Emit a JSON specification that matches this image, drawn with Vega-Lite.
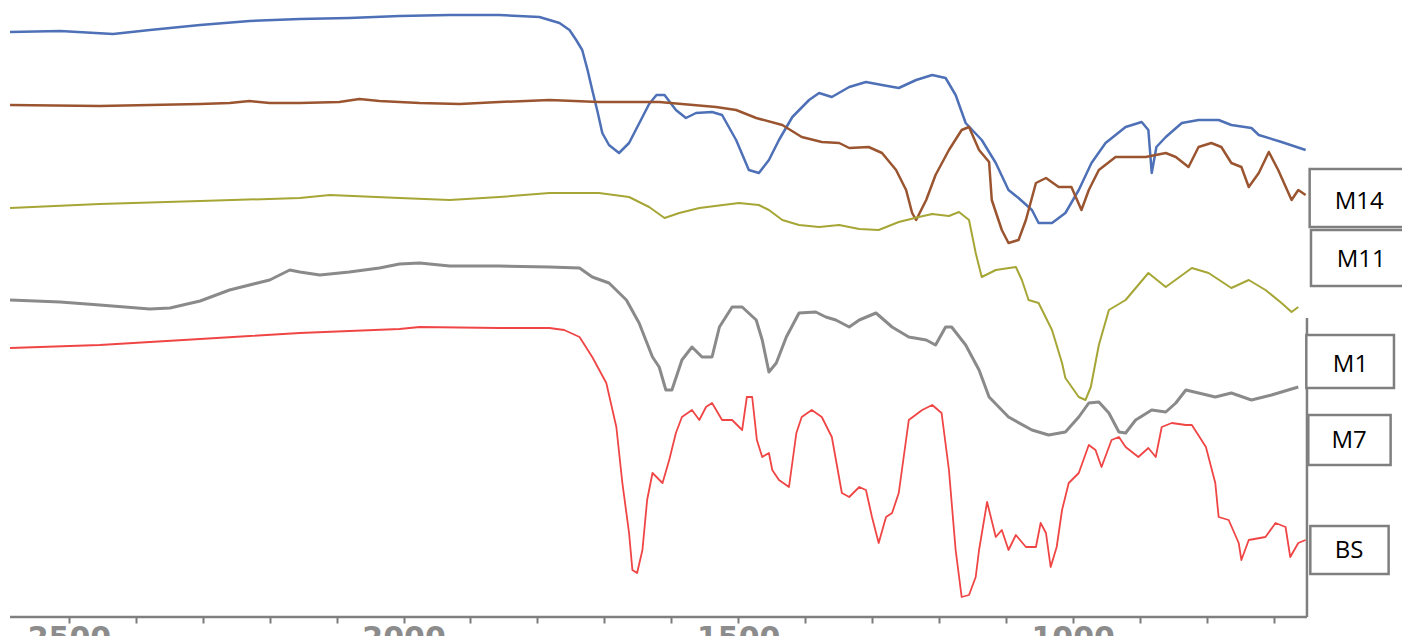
{
  "$schema": "https://vega.github.io/schema/vega-lite/v6.json",
  "width": 1402,
  "height": 617,
  "autosize": "none",
  "padding": {"left": 0, "top": 0, "right": 0, "bottom": 19},
  "background": "white",
  "config": {"view": {"stroke": null}},
  "datasets": {
    "spectra": [
      {"s":"M14","wn":2588,"t":585},{"s":"M14","wn":2513,"t":586},{"s":"M14","wn":2434,"t":583},{"s":"M14","wn":2379,"t":587},{"s":"M14","wn":2304,"t":592},{"s":"M14","wn":2230,"t":596},{"s":"M14","wn":2155,"t":598},{"s":"M14","wn":2081,"t":599},{"s":"M14","wn":2006,"t":601},{"s":"M14","wn":1931,"t":602},{"s":"M14","wn":1857,"t":602},{"s":"M14","wn":1797,"t":600},{"s":"M14","wn":1782,"t":597},{"s":"M14","wn":1767,"t":594},{"s":"M14","wn":1752,"t":587},{"s":"M14","wn":1742,"t":577},{"s":"M14","wn":1733,"t":567},{"s":"M14","wn":1725,"t":547},{"s":"M14","wn":1718,"t":527},{"s":"M14","wn":1710,"t":505},{"s":"M14","wn":1703,"t":484},{"s":"M14","wn":1693,"t":472},{"s":"M14","wn":1678,"t":464},{"s":"M14","wn":1663,"t":474},{"s":"M14","wn":1643,"t":500},{"s":"M14","wn":1633,"t":513},{"s":"M14","wn":1622,"t":522},{"s":"M14","wn":1610,"t":522},{"s":"M14","wn":1593,"t":507},{"s":"M14","wn":1578,"t":499},{"s":"M14","wn":1563,"t":504},{"s":"M14","wn":1539,"t":505},{"s":"M14","wn":1524,"t":502},{"s":"M14","wn":1503,"t":477},{"s":"M14","wn":1484,"t":447},{"s":"M14","wn":1469,"t":444},{"s":"M14","wn":1454,"t":457},{"s":"M14","wn":1439,"t":477},{"s":"M14","wn":1419,"t":500},{"s":"M14","wn":1394,"t":517},{"s":"M14","wn":1379,"t":524},{"s":"M14","wn":1360,"t":520},{"s":"M14","wn":1334,"t":530},{"s":"M14","wn":1309,"t":535},{"s":"M14","wn":1285,"t":532},{"s":"M14","wn":1260,"t":529},{"s":"M14","wn":1234,"t":537},{"s":"M14","wn":1210,"t":542},{"s":"M14","wn":1190,"t":539},{"s":"M14","wn":1175,"t":522},{"s":"M14","wn":1160,"t":494},{"s":"M14","wn":1136,"t":477},{"s":"M14","wn":1115,"t":454},{"s":"M14","wn":1096,"t":427},{"s":"M14","wn":1081,"t":419},{"s":"M14","wn":1061,"t":407},{"s":"M14","wn":1051,"t":394},{"s":"M14","wn":1031,"t":394},{"s":"M14","wn":1011,"t":404},{"s":"M14","wn":991,"t":427},{"s":"M14","wn":972,"t":454},{"s":"M14","wn":951,"t":474},{"s":"M14","wn":921,"t":490},{"s":"M14","wn":897,"t":495},{"s":"M14","wn":887,"t":487},{"s":"M14","wn":882,"t":444},{"s":"M14","wn":875,"t":470},{"s":"M14","wn":861,"t":480},{"s":"M14","wn":837,"t":494},{"s":"M14","wn":812,"t":497},{"s":"M14","wn":782,"t":497},{"s":"M14","wn":763,"t":492},{"s":"M14","wn":733,"t":489},{"s":"M14","wn":722,"t":482},{"s":"M14","wn":688,"t":475},{"s":"M14","wn":652,"t":467},

      {"s":"M11","wn":2588,"t":512},{"s":"M11","wn":2454,"t":511},{"s":"M11","wn":2379,"t":512},{"s":"M11","wn":2304,"t":513},{"s":"M11","wn":2260,"t":514},{"s":"M11","wn":2230,"t":516},{"s":"M11","wn":2200,"t":514},{"s":"M11","wn":2155,"t":514},{"s":"M11","wn":2096,"t":515},{"s":"M11","wn":2066,"t":518},{"s":"M11","wn":2036,"t":516},{"s":"M11","wn":1976,"t":514},{"s":"M11","wn":1916,"t":513},{"s":"M11","wn":1857,"t":515},{"s":"M11","wn":1782,"t":517},{"s":"M11","wn":1708,"t":515},{"s":"M11","wn":1618,"t":515},{"s":"M11","wn":1533,"t":510},{"s":"M11","wn":1503,"t":507},{"s":"M11","wn":1473,"t":499},{"s":"M11","wn":1434,"t":492},{"s":"M11","wn":1405,"t":480},{"s":"M11","wn":1375,"t":475},{"s":"M11","wn":1349,"t":474},{"s":"M11","wn":1334,"t":469},{"s":"M11","wn":1305,"t":470},{"s":"M11","wn":1285,"t":464},{"s":"M11","wn":1264,"t":447},{"s":"M11","wn":1249,"t":427},{"s":"M11","wn":1240,"t":404},{"s":"M11","wn":1234,"t":397},{"s":"M11","wn":1219,"t":417},{"s":"M11","wn":1205,"t":442},{"s":"M11","wn":1185,"t":467},{"s":"M11","wn":1166,"t":487},{"s":"M11","wn":1155,"t":490},{"s":"M11","wn":1140,"t":467},{"s":"M11","wn":1125,"t":455},{"s":"M11","wn":1121,"t":417},{"s":"M11","wn":1106,"t":387},{"s":"M11","wn":1096,"t":374},{"s":"M11","wn":1081,"t":377},{"s":"M11","wn":1070,"t":397},{"s":"M11","wn":1055,"t":434},{"s":"M11","wn":1040,"t":439},{"s":"M11","wn":1021,"t":430},{"s":"M11","wn":1002,"t":430},{"s":"M11","wn":987,"t":407},{"s":"M11","wn":976,"t":427},{"s":"M11","wn":961,"t":447},{"s":"M11","wn":936,"t":460},{"s":"M11","wn":912,"t":460},{"s":"M11","wn":891,"t":460},{"s":"M11","wn":861,"t":464},{"s":"M11","wn":846,"t":460},{"s":"M11","wn":827,"t":450},{"s":"M11","wn":812,"t":470},{"s":"M11","wn":793,"t":474},{"s":"M11","wn":778,"t":470},{"s":"M11","wn":763,"t":454},{"s":"M11","wn":748,"t":450},{"s":"M11","wn":737,"t":430},{"s":"M11","wn":722,"t":444},{"s":"M11","wn":707,"t":465},{"s":"M11","wn":693,"t":447},{"s":"M11","wn":673,"t":417},{"s":"M11","wn":663,"t":427},{"s":"M11","wn":652,"t":422},

      {"s":"M1","wn":2588,"t":409},{"s":"M1","wn":2454,"t":413},{"s":"M1","wn":2304,"t":416},{"s":"M1","wn":2155,"t":419},{"s":"M1","wn":2110,"t":422},{"s":"M1","wn":2006,"t":419},{"s":"M1","wn":1931,"t":417},{"s":"M1","wn":1857,"t":420},{"s":"M1","wn":1782,"t":424},{"s":"M1","wn":1708,"t":424},{"s":"M1","wn":1663,"t":420},{"s":"M1","wn":1633,"t":410},{"s":"M1","wn":1610,"t":399},{"s":"M1","wn":1588,"t":404},{"s":"M1","wn":1558,"t":409},{"s":"M1","wn":1499,"t":414},{"s":"M1","wn":1469,"t":412},{"s":"M1","wn":1454,"t":407},{"s":"M1","wn":1434,"t":397},{"s":"M1","wn":1409,"t":392},{"s":"M1","wn":1379,"t":390},{"s":"M1","wn":1349,"t":392},{"s":"M1","wn":1319,"t":388},{"s":"M1","wn":1290,"t":387},{"s":"M1","wn":1260,"t":395},{"s":"M1","wn":1230,"t":400},{"s":"M1","wn":1210,"t":403},{"s":"M1","wn":1185,"t":401},{"s":"M1","wn":1170,"t":405},{"s":"M1","wn":1155,"t":397},{"s":"M1","wn":1145,"t":364},{"s":"M1","wn":1136,"t":340},{"s":"M1","wn":1115,"t":347},{"s":"M1","wn":1085,"t":350},{"s":"M1","wn":1076,"t":337},{"s":"M1","wn":1066,"t":317},{"s":"M1","wn":1051,"t":314},{"s":"M1","wn":1031,"t":287},{"s":"M1","wn":1016,"t":254},{"s":"M1","wn":1011,"t":239},{"s":"M1","wn":991,"t":220},{"s":"M1","wn":981,"t":217},{"s":"M1","wn":973,"t":230},{"s":"M1","wn":961,"t":272},{"s":"M1","wn":946,"t":307},{"s":"M1","wn":921,"t":317},{"s":"M1","wn":887,"t":344},{"s":"M1","wn":861,"t":330},{"s":"M1","wn":822,"t":349},{"s":"M1","wn":797,"t":344},{"s":"M1","wn":763,"t":329},{"s":"M1","wn":737,"t":337},{"s":"M1","wn":712,"t":327},{"s":"M1","wn":688,"t":314},{"s":"M1","wn":673,"t":305},{"s":"M1","wn":663,"t":310},

      {"s":"M7","wn":2588,"t":317},{"s":"M7","wn":2513,"t":315},{"s":"M7","wn":2454,"t":312},{"s":"M7","wn":2379,"t":308},{"s":"M7","wn":2349,"t":309},{"s":"M7","wn":2304,"t":316},{"s":"M7","wn":2260,"t":327},{"s":"M7","wn":2200,"t":337},{"s":"M7","wn":2170,"t":347},{"s":"M7","wn":2155,"t":345},{"s":"M7","wn":2125,"t":342},{"s":"M7","wn":2081,"t":345},{"s":"M7","wn":2036,"t":349},{"s":"M7","wn":2006,"t":353},{"s":"M7","wn":1976,"t":354},{"s":"M7","wn":1931,"t":351},{"s":"M7","wn":1857,"t":351},{"s":"M7","wn":1782,"t":350},{"s":"M7","wn":1737,"t":349},{"s":"M7","wn":1718,"t":340},{"s":"M7","wn":1693,"t":334},{"s":"M7","wn":1667,"t":317},{"s":"M7","wn":1648,"t":294},{"s":"M7","wn":1628,"t":260},{"s":"M7","wn":1618,"t":250},{"s":"M7","wn":1608,"t":227},{"s":"M7","wn":1599,"t":227},{"s":"M7","wn":1584,"t":257},{"s":"M7","wn":1569,"t":270},{"s":"M7","wn":1554,"t":260},{"s":"M7","wn":1539,"t":260},{"s":"M7","wn":1528,"t":290},{"s":"M7","wn":1509,"t":310},{"s":"M7","wn":1494,"t":310},{"s":"M7","wn":1473,"t":297},{"s":"M7","wn":1464,"t":277},{"s":"M7","wn":1454,"t":245},{"s":"M7","wn":1443,"t":254},{"s":"M7","wn":1428,"t":280},{"s":"M7","wn":1409,"t":304},{"s":"M7","wn":1384,"t":305},{"s":"M7","wn":1369,"t":300},{"s":"M7","wn":1354,"t":297},{"s":"M7","wn":1334,"t":290},{"s":"M7","wn":1319,"t":297},{"s":"M7","wn":1294,"t":304},{"s":"M7","wn":1270,"t":290},{"s":"M7","wn":1245,"t":280},{"s":"M7","wn":1219,"t":277},{"s":"M7","wn":1205,"t":272},{"s":"M7","wn":1190,"t":290},{"s":"M7","wn":1181,"t":290},{"s":"M7","wn":1160,"t":272},{"s":"M7","wn":1140,"t":247},{"s":"M7","wn":1125,"t":220},{"s":"M7","wn":1096,"t":200},{"s":"M7","wn":1061,"t":187},{"s":"M7","wn":1036,"t":182},{"s":"M7","wn":1011,"t":185},{"s":"M7","wn":991,"t":200},{"s":"M7","wn":976,"t":214},{"s":"M7","wn":961,"t":215},{"s":"M7","wn":946,"t":204},{"s":"M7","wn":931,"t":185},{"s":"M7","wn":921,"t":184},{"s":"M7","wn":906,"t":197},{"s":"M7","wn":882,"t":207},{"s":"M7","wn":861,"t":205},{"s":"M7","wn":846,"t":214},{"s":"M7","wn":831,"t":227},{"s":"M7","wn":812,"t":224},{"s":"M7","wn":787,"t":220},{"s":"M7","wn":763,"t":224},{"s":"M7","wn":733,"t":217},{"s":"M7","wn":703,"t":222},{"s":"M7","wn":663,"t":230},

      {"s":"BS","wn":2588,"t":269},{"s":"BS","wn":2454,"t":272},{"s":"BS","wn":2379,"t":275},{"s":"BS","wn":2304,"t":278},{"s":"BS","wn":2230,"t":281},{"s":"BS","wn":2155,"t":284},{"s":"BS","wn":2081,"t":286},{"s":"BS","wn":2006,"t":288},{"s":"BS","wn":1976,"t":290},{"s":"BS","wn":1857,"t":289},{"s":"BS","wn":1782,"t":289},{"s":"BS","wn":1760,"t":287},{"s":"BS","wn":1737,"t":280},{"s":"BS","wn":1718,"t":260},{"s":"BS","wn":1697,"t":234},{"s":"BS","wn":1682,"t":190},{"s":"BS","wn":1673,"t":134},{"s":"BS","wn":1663,"t":84},{"s":"BS","wn":1658,"t":47},{"s":"BS","wn":1651,"t":44},{"s":"BS","wn":1643,"t":67},{"s":"BS","wn":1636,"t":117},{"s":"BS","wn":1628,"t":144},{"s":"BS","wn":1613,"t":134},{"s":"BS","wn":1603,"t":157},{"s":"BS","wn":1593,"t":184},{"s":"BS","wn":1584,"t":200},{"s":"BS","wn":1569,"t":207},{"s":"BS","wn":1558,"t":197},{"s":"BS","wn":1548,"t":210},{"s":"BS","wn":1539,"t":214},{"s":"BS","wn":1524,"t":197},{"s":"BS","wn":1509,"t":197},{"s":"BS","wn":1494,"t":187},{"s":"BS","wn":1487,"t":220},{"s":"BS","wn":1479,"t":220},{"s":"BS","wn":1472,"t":177},{"s":"BS","wn":1464,"t":160},{"s":"BS","wn":1454,"t":164},{"s":"BS","wn":1449,"t":147},{"s":"BS","wn":1439,"t":137},{"s":"BS","wn":1424,"t":130},{"s":"BS","wn":1413,"t":184},{"s":"BS","wn":1405,"t":200},{"s":"BS","wn":1390,"t":207},{"s":"BS","wn":1375,"t":200},{"s":"BS","wn":1360,"t":180},{"s":"BS","wn":1345,"t":124},{"s":"BS","wn":1334,"t":120},{"s":"BS","wn":1319,"t":130},{"s":"BS","wn":1309,"t":127},{"s":"BS","wn":1300,"t":100},{"s":"BS","wn":1290,"t":74},{"s":"BS","wn":1279,"t":100},{"s":"BS","wn":1270,"t":104},{"s":"BS","wn":1260,"t":124},{"s":"BS","wn":1245,"t":197},{"s":"BS","wn":1225,"t":207},{"s":"BS","wn":1210,"t":212},{"s":"BS","wn":1196,"t":204},{"s":"BS","wn":1185,"t":147},{"s":"BS","wn":1175,"t":67},{"s":"BS","wn":1166,"t":20},{"s":"BS","wn":1155,"t":22},{"s":"BS","wn":1145,"t":40},{"s":"BS","wn":1140,"t":67},{"s":"BS","wn":1128,"t":115},{"s":"BS","wn":1115,"t":80},{"s":"BS","wn":1106,"t":87},{"s":"BS","wn":1096,"t":67},{"s":"BS","wn":1085,"t":82},{"s":"BS","wn":1070,"t":70},{"s":"BS","wn":1055,"t":70},{"s":"BS","wn":1048,"t":94},{"s":"BS","wn":1040,"t":84},{"s":"BS","wn":1033,"t":50},{"s":"BS","wn":1024,"t":70},{"s":"BS","wn":1016,"t":107},{"s":"BS","wn":1006,"t":134},{"s":"BS","wn":991,"t":144},{"s":"BS","wn":976,"t":172},{"s":"BS","wn":966,"t":167},{"s":"BS","wn":957,"t":150},{"s":"BS","wn":942,"t":177},{"s":"BS","wn":931,"t":180},{"s":"BS","wn":921,"t":170},{"s":"BS","wn":902,"t":160},{"s":"BS","wn":887,"t":169},{"s":"BS","wn":876,"t":160},{"s":"BS","wn":867,"t":190},{"s":"BS","wn":852,"t":194},{"s":"BS","wn":831,"t":192},{"s":"BS","wn":822,"t":192},{"s":"BS","wn":801,"t":170},{"s":"BS","wn":787,"t":134},{"s":"BS","wn":782,"t":100},{"s":"BS","wn":767,"t":97},{"s":"BS","wn":752,"t":74},{"s":"BS","wn":748,"t":57},{"s":"BS","wn":737,"t":77},{"s":"BS","wn":712,"t":80},{"s":"BS","wn":697,"t":94},{"s":"BS","wn":682,"t":90},{"s":"BS","wn":675,"t":60},{"s":"BS","wn":663,"t":74},{"s":"BS","wn":652,"t":77}
    ],
    "boxes": [
      {"label":"M14","x1":646,"x2":500,"t1":448,"t2":390,"tx":572,"ty":415},
      {"label":"M11","x1":644,"x2":500,"t1":387,"t2":331,"tx":569,"ty":357},
      {"label":"M1","x1":651,"x2":520,"t1":282,"t2":229,"tx":585,"ty":252},
      {"label":"M7","x1":648,"x2":525,"t1":202,"t2":152,"tx":587,"ty":176},
      {"label":"BS","x1":645,"x2":528,"t1":91,"t2":43,"tx":587,"ty":66}
    ],
    "frame": [
      {"part":"axis","x1":2588,"x2":650,"t1":0,"t2":0},
      {"part":"right","x1":650,"x2":650,"t1":0,"t2":299}
    ]
  },
  "layer": [
    {
      "data": {"name": "frame"},
      "mark": {"type": "rule", "color": "#7f7f7f", "strokeWidth": 2.5},
      "encoding": {
        "x": {"field": "x1", "type": "quantitative", "scale": {"domain": [508, 2603], "reverse": true, "nice": false, "zero": false},
          "axis": {"values": [2500,2400,2300,2200,2100,2000,1900,1800,1700,1600,1500,1400,1300,1200,1100,1000,900,800,700],
            "labelExpr": "datum.value % 500 === 0 ? datum.label : ''", "format": "d", "domain": false, "grid": false,
            "tickColor": "#7a7a7a", "tickWidth": 2, "tickSize": 6,
            "labelFont": "DejaVu Sans", "labelFontSize": 30, "labelFontWeight": "bold", "labelColor": "#8c8c8c",
            "labelBaseline": "alphabetic", "labelPadding": 24, "labelOverlap": false, "labelBound": false, "labelFlush": false, "title": null}},
        "x2": {"field": "x2"},
        "y": {"field": "t1", "type": "quantitative", "scale": {"domain": [0, 617], "nice": false, "zero": false}, "axis": null},
        "y2": {"field": "t2"}
      }
    },
    {
      "data": {"name": "spectra"},
      "transform": [{"filter": "datum.s === 'M14'"}],
      "mark": {"type": "line", "color": "#4e70b6", "strokeWidth": 2.5, "strokeJoin": "round"},
      "encoding": {"x": {"field": "wn", "type": "quantitative"}, "y": {"field": "t", "type": "quantitative"}, "order": {"value": 0}}
    },
    {
      "data": {"name": "spectra"},
      "transform": [{"filter": "datum.s === 'M11'"}],
      "mark": {"type": "line", "color": "#9a5530", "strokeWidth": 2.5, "strokeJoin": "round"},
      "encoding": {"x": {"field": "wn", "type": "quantitative"}, "y": {"field": "t", "type": "quantitative"}, "order": {"value": 0}}
    },
    {
      "data": {"name": "spectra"},
      "transform": [{"filter": "datum.s === 'M1'"}],
      "mark": {"type": "line", "color": "#a6a636", "strokeWidth": 2, "strokeJoin": "round"},
      "encoding": {"x": {"field": "wn", "type": "quantitative"}, "y": {"field": "t", "type": "quantitative"}, "order": {"value": 0}}
    },
    {
      "data": {"name": "spectra"},
      "transform": [{"filter": "datum.s === 'M7'"}],
      "mark": {"type": "line", "color": "#8a8a8a", "strokeWidth": 3, "strokeJoin": "round"},
      "encoding": {"x": {"field": "wn", "type": "quantitative"}, "y": {"field": "t", "type": "quantitative"}, "order": {"value": 0}}
    },
    {
      "data": {"name": "spectra"},
      "transform": [{"filter": "datum.s === 'BS'"}],
      "mark": {"type": "line", "color": "#f04545", "strokeWidth": 1.8, "strokeJoin": "round"},
      "encoding": {"x": {"field": "wn", "type": "quantitative"}, "y": {"field": "t", "type": "quantitative"}, "order": {"value": 0}}
    },
    {
      "data": {"name": "boxes"},
      "mark": {"type": "rect", "fill": "white", "stroke": "#7f7f7f", "strokeWidth": 2.5, "clip": false},
      "encoding": {"x": {"field": "x1", "type": "quantitative"}, "x2": {"field": "x2"}, "y": {"field": "t1", "type": "quantitative"}, "y2": {"field": "t2"}}
    },
    {
      "data": {"name": "boxes"},
      "mark": {"type": "text", "font": "Open Sans", "fontSize": 24, "color": "black", "align": "center", "baseline": "middle"},
      "encoding": {"x": {"field": "tx", "type": "quantitative"}, "y": {"field": "ty", "type": "quantitative"}, "text": {"field": "label"}}
    }
  ]
}
